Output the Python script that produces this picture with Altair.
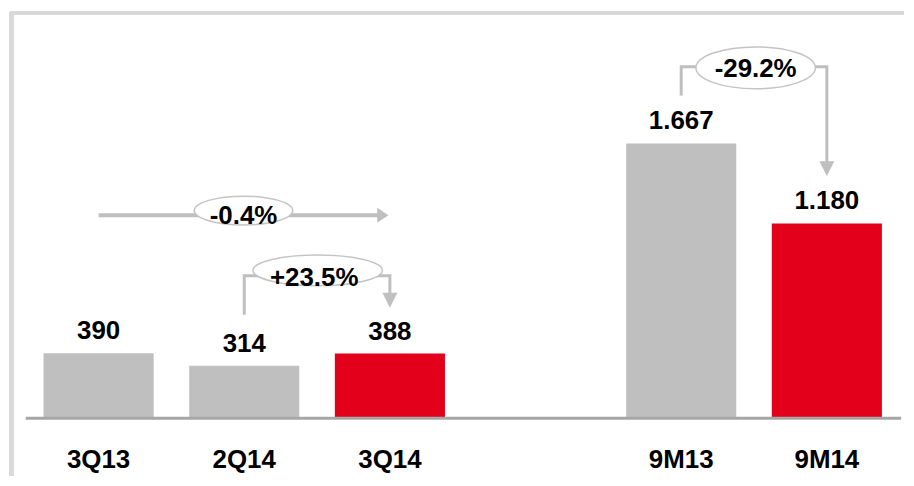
import altair as alt
import pandas as pd

# ---------------- data ----------------
categories = ["3Q13", "2Q14", "3Q14", "9M13", "9M14"]
groups = ["Q", "Q", "Q", "9M", "9M"]
values = [390, 314, 388, 1667, 1180]
value_labels = ["390", "314", "388", "1.667", "1.180"]
highlight = [False, False, True, False, True]

change_labels = ["-0.4%", "+23.5%", "-29.2%"]
change_from = ["3Q13", "2Q14", "9M13"]
change_to = ["3Q14", "3Q14", "9M14"]
change_kind = ["straight", "bracket", "bracket"]

# ---------------- layout / style ----------------
W, H = 898, 466
K = 0.165            # px per unit
BASE_PX = 407        # baseline position in plot px
STEP_PX = 146.3      # px per slot
SLOT0_PX = 89        # centre of first slot in plot px
HALF_BAR = 0.378     # half bar width in slot units

GREY = "#bfbfbf"
RED = "#e2001a"
LINE = "#bfbfbf"
FONT = "Liberation Sans"
FS = 26

y_dom = [-(H - BASE_PX) / K, BASE_PX / K]
x_dom = [-SLOT0_PX / STEP_PX, (W - SLOT0_PX) / STEP_PX]
xs = alt.Scale(domain=x_dom, nice=False, zero=False)
ys = alt.Scale(domain=y_dom, nice=False, zero=False)

# slot positions: leave one empty slot between groups
slots = []
gap = 0
for i, g in enumerate(groups):
    if i > 0 and g != groups[i - 1]:
        gap += 1
    slots.append(i + gap)
slot_of = dict(zip(categories, slots))

bars = pd.DataFrame({
    "cat": categories,
    "slot": slots,
    "x0": [s - HALF_BAR for s in slots],
    "x1": [s + HALF_BAR for s in slots],
    "v": values,
    "lab": value_labels,
    "col": [RED if h else GREY for h in highlight],
})

X = lambda f: alt.X(f, type="quantitative", scale=xs, axis=None)
Y = lambda f: alt.Y(f, type="quantitative", scale=ys, axis=None)

bar_layer = alt.Chart(bars).mark_rect().encode(
    x=X("x0"), x2="x1", y=Y("zero"), y2="v",
    color=alt.Color("col:N", scale=None),
).transform_calculate(zero="0")

val_text = alt.Chart(bars).mark_text(
    font=FONT, fontSize=FS, fontWeight="bold", baseline="alphabetic", dy=-14, color="#000000"
).encode(x=X("slot"), y=Y("v"), text="lab:N")

cat_text = alt.Chart(bars).mark_text(
    font=FONT, fontSize=FS, fontWeight="bold", baseline="alphabetic", dy=51, color="#000000"
).encode(x=X("slot"), y=Y("zero"), text="cat:N").transform_calculate(zero="0")

base_df = pd.DataFrame({"x0": [min(slots) - 0.5], "x1": [max(slots) + 0.51], "y": [-6]})
baseline = alt.Chart(base_df).mark_rule(color="#a6a6a6", strokeWidth=3).encode(
    x=X("x0"), x2="x1", y=Y("y"))

# ---------------- change annotations ----------------
# per annotation: connector level, ellipse centre, text baseline, start/arrow ends (data units)
ann_geom = [
    dict(level=1230, ey=1258, ty=1176, ex=0.995, tx=0.995, ew=99, eh=29, sw=4,
         x_end=1.92, tip=1.99),
    dict(level=861, ey=894, ty=800, ex=1.504, tx=1.48, ew=130, eh=31, sw=3,
         start_y=624, tip=667),
    dict(level=2133, ey=2127, ty=2073, ex=4.511, tx=4.511, ew=120, eh=42, sw=3,
         start_y=1958, tip=1467),
]

line_rows, arrow_rows, ell_layers = [], [], []
for k, (lab, fr, to, kind, g) in enumerate(zip(change_labels, change_from, change_to, change_kind, ann_geom)):
    a, b = slot_of[fr], slot_of[to]
    if kind == "straight":
        pts = [(a, g["level"]), (g["x_end"], g["level"])]
        arrow_rows.append(dict(x=g["tip"], y=g["level"], shape="M-1.5,-1L-1.5,1L0,0Z"))
    else:
        pts = [(a, g["start_y"]), (a, g["level"]), (b, g["level"]), (b, g["tip"] + 50)]
        arrow_rows.append(dict(x=b, y=g["tip"], shape="M-1,-2L1,-2L0,0Z"))
    for o, (px, py) in enumerate(pts):
        line_rows.append(dict(grp=k, o=o, x=px, y=py, sw=g["sw"]))
    ry = g["eh"] / g["ew"]
    path = f"M-1,0A1,{ry:.3f},0,1,1,1,0A1,{ry:.3f},0,1,1,-1,0Z"
    edf = pd.DataFrame({"x": [g["ex"]], "y": [g["ey"]], "tx": [g["tx"]], "ty": [g["ty"]], "lab": [lab]})
    ell = alt.Chart(edf).mark_point(
        shape=path, size=g["ew"] ** 2, filled=True, fill="white", stroke="#c4c4c4",
        strokeWidth=1.5, opacity=1
    ).encode(x=X("x"), y=Y("y"))
    txt = alt.Chart(edf).mark_text(
        font=FONT, fontSize=FS, fontWeight="bold", baseline="alphabetic", color="#000000"
    ).encode(x=X("tx"), y=Y("ty"), text="lab:N")
    ell_layers += [ell, txt]

lines_df = pd.DataFrame(line_rows)
conn = alt.Chart(lines_df).mark_line(color=LINE, strokeCap="butt", strokeJoin="miter").encode(
    x=X("x"), y=Y("y"), detail="grp:N", order="o:Q",
    strokeWidth=alt.StrokeWidth("sw:Q", scale=None),
)
arrows = alt.Chart(pd.DataFrame(arrow_rows)).mark_point(
    filled=True, fill=LINE, color=LINE, size=225, opacity=1, strokeWidth=0
).encode(x=X("x"), y=Y("y"), shape=alt.Shape("shape:N", scale=None))

# ---------------- frame ----------------
frame_top = alt.Chart(pd.DataFrame({"a": [0]})).mark_rule(color="#d9d9d9", strokeWidth=4).encode(
    x=alt.value(0), x2=alt.value(W), y=alt.value(1))
frame_left = alt.Chart(pd.DataFrame({"a": [0]})).mark_rule(color="#d9d9d9", strokeWidth=5).encode(
    x=alt.value(1.5), y=alt.value(0), y2=alt.value(H))

chart = alt.layer(
    frame_top, frame_left, bar_layer, baseline, val_text, cat_text, conn, arrows, *ell_layers
).properties(width=W, height=H, padding=0, background="white").configure_view(stroke=None)

chart.save("out.html", embed_options={"renderer": "svg", "actions": False})
